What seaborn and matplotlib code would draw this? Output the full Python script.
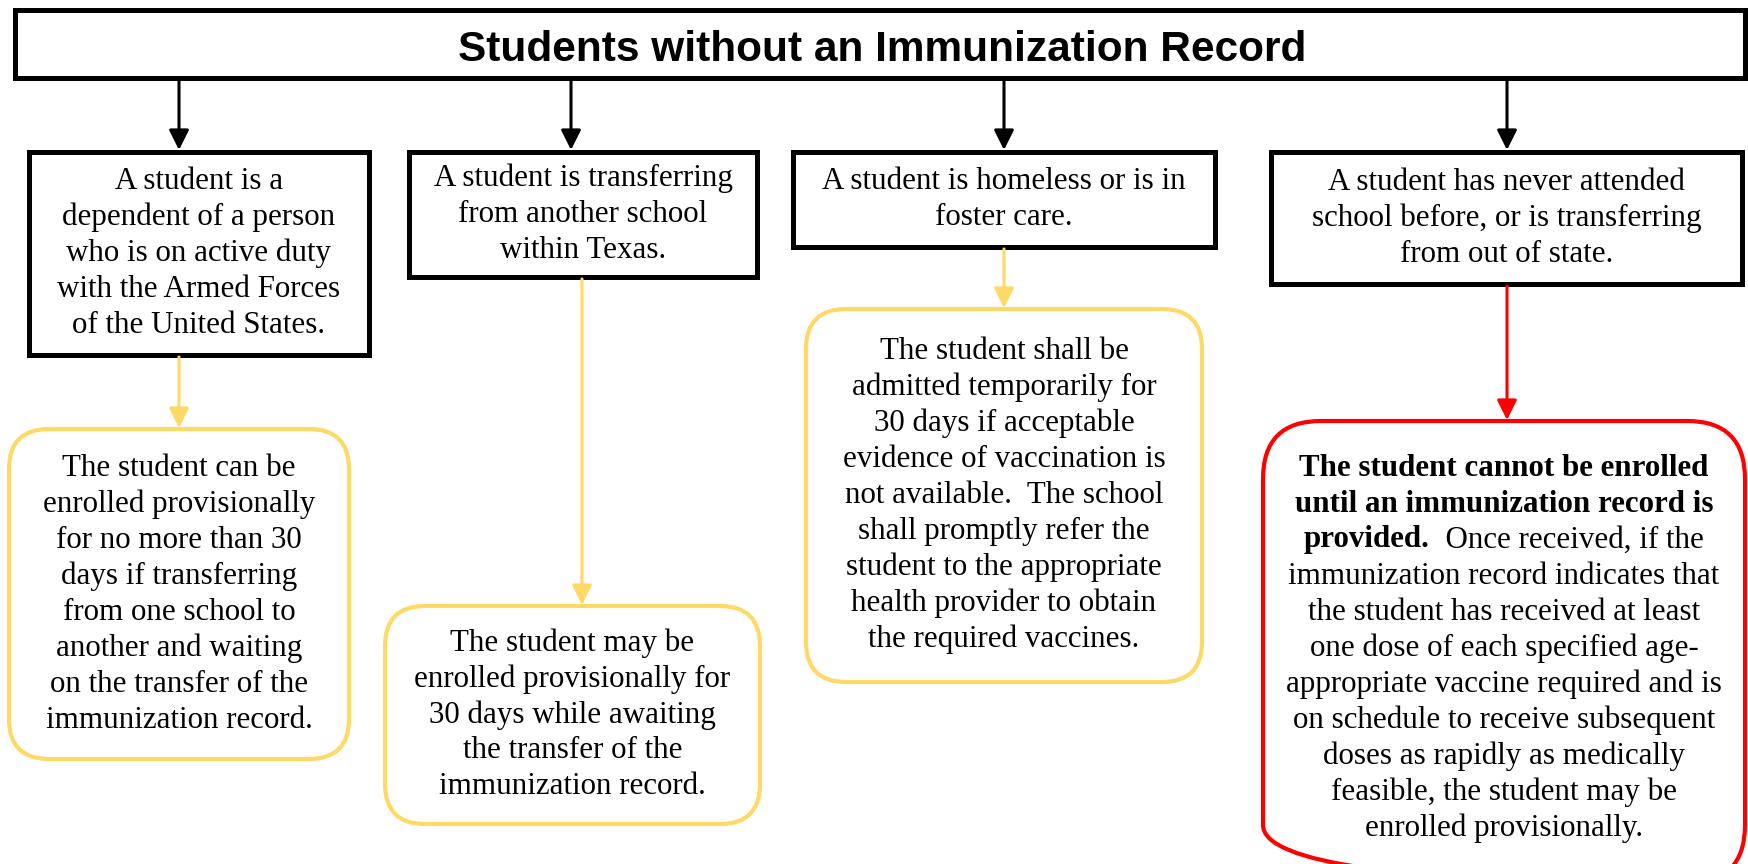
import matplotlib
matplotlib.use("Agg")
import matplotlib.pyplot as plt
import seaborn as sns
from matplotlib.patches import Rectangle, FancyBboxPatch

sns.set_theme(style="white")
plt.rcParams['font.family'] = ['Liberation Serif', 'DejaVu Serif']
plt.rcParams['text.color'] = 'black'

# --- text content ---
title = "Students without an Immunization Record"

case_lines = [
    ["A student is a", "dependent of a person", "who is on active duty",
     "with the Armed Forces", "of the United States."],
    ["A student is transferring", "from another school", "within Texas."],
    ["A student is homeless or is in", "foster care."],
    ["A student has never attended", "school before, or is transferring",
     "from out of state."],
]

yellow_lines = [
    ["The student can be", "enrolled provisionally", "for no more than 30",
     "days if transferring", "from one school to", "another and waiting",
     "on the transfer of the", "immunization record."],
    ["The student may be", "enrolled provisionally for", "30 days while awaiting",
     "the transfer of the", "immunization record."],
    ["The student shall be", "admitted temporarily for", "30 days if acceptable",
     "evidence of vaccination is", "not available.  The school",
     "shall promptly refer the", "student to the appropriate",
     "health provider to obtain", "the required vaccines."],
]

red_bold = ["The student cannot be enrolled", "until an immunization record is", "provided."]
red_rest = ["  Once received, if the", "immunization record indicates that",
            "the student has received at least", "one dose of each specified age-",
            "appropriate vaccine required and is", "on schedule to receive subsequent",
            "doses as rapidly as medically", "feasible, the student may be",
            "enrolled provisionally."]

# --- layout (pixels, y downwards) ---
W, H = 1748, 864
title_box = (15, 10, 1730, 68)
case_boxes = [(29, 152, 340, 203), (409, 152, 348, 125), (793, 152, 422, 95), (1271, 152, 471, 132)]
arrow_x = [179, 571, 1004, 1507]
yellow_boxes = [(9, 429, 340, 330), (385, 606, 375, 218), (806, 309, 396, 373)]
yellow_x = [179, 582, 1004]
red_box = (1263, 421, 482, 462)

BLACK, YELLOW, RED = "#000000", "#FFD966", "#FF0000"
LINE_H = 36
FS = 22.3

fig = plt.figure(figsize=(W / 100, H / 100), dpi=100)
ax = fig.add_axes([0, 0, 1, 1])
ax.set_xlim(0, W)
ax.set_ylim(H, 0)
ax.axis("off")


def arrow(x, y0, y1, color):
    ax.annotate("", xy=(x, y1), xytext=(x, y0),
                arrowprops=dict(arrowstyle="-|>,head_length=1.0,head_width=0.5",
                                mutation_scale=12, lw=2.2, color=color,
                                shrinkA=0, shrinkB=0))


def lines_in(box, lines, **kw):
    x, y, w, h = box
    cy = y + h / 2
    n = len(lines)
    for i, s in enumerate(lines):
        ax.text(x + w / 2, cy + (i - (n - 1) / 2) * LINE_H, s, ha="center",
                va="center", fontsize=FS, color="black", **kw)


# title
x, y, w, h = title_box
ax.add_patch(Rectangle((x, y), w, h, fill=False, lw=3.6, ec=BLACK))
ax.text(x + w / 2 + 2, y + h / 2 + 6, title, ha="center", va="center", fontsize=30.5,
        fontweight="bold", color="black", family=["Liberation Sans", "DejaVu Sans"])

# case boxes
for box, lines, ax_x in zip(case_boxes, case_lines, arrow_x):
    x, y, w, h = box
    ax.add_patch(Rectangle((x, y), w, h, fill=False, lw=3.6, ec=BLACK))
    lines_in(box, lines)
    arrow(ax_x, title_box[1] + title_box[3] + 2, y - 2, BLACK)

# yellow outcome boxes
for box, lines, src, yx in zip(yellow_boxes, yellow_lines, case_boxes[:3], yellow_x):
    x, y, w, h = box
    ax.add_patch(FancyBboxPatch((x, y), w, h, boxstyle="round,pad=0,rounding_size=40",
                                fill=False, lw=3.0, ec=YELLOW))
    lines_in(box, lines)
    arrow(yx, src[1] + src[3] + 2, y - 1, YELLOW)

# red outcome box
x, y, w, h = red_box
ax.add_patch(FancyBboxPatch((x, y), w, h, boxstyle="round,pad=0,rounding_size=58",
                            fill=False, lw=3.0, ec=RED, clip_on=False))
src = case_boxes[3]
arrow(arrow_x[3], src[1] + src[3] + 2, y - 1, RED)

cx = x + w / 2
first_y = 468
ys = [first_y + i * LINE_H for i in range(11)]
ax.text(cx, ys[0], red_bold[0], ha="center", va="center", fontsize=FS, fontweight="bold", color="black")
ax.text(cx, ys[1], red_bold[1], ha="center", va="center", fontsize=FS, fontweight="bold", color="black")

# mixed line: bold + regular, centred as a whole
t_b = ax.text(0, ys[2], red_bold[2], ha="left", va="center", fontsize=FS, fontweight="bold", color="black")
t_r = ax.text(0, ys[2], red_rest[0], ha="left", va="center", fontsize=FS, color="black")
fig.canvas.draw()
r = fig.canvas.get_renderer()
wb = t_b.get_window_extent(r).width
wr = t_r.get_window_extent(r).width
left = cx - (wb + wr) / 2
t_b.set_x(left)
t_r.set_x(left + wb)

for i, s in enumerate(red_rest[1:]):
    ax.text(cx, ys[3 + i], s, ha="center", va="center", fontsize=FS, color="black")

fig.savefig("out.png", dpi=100)
